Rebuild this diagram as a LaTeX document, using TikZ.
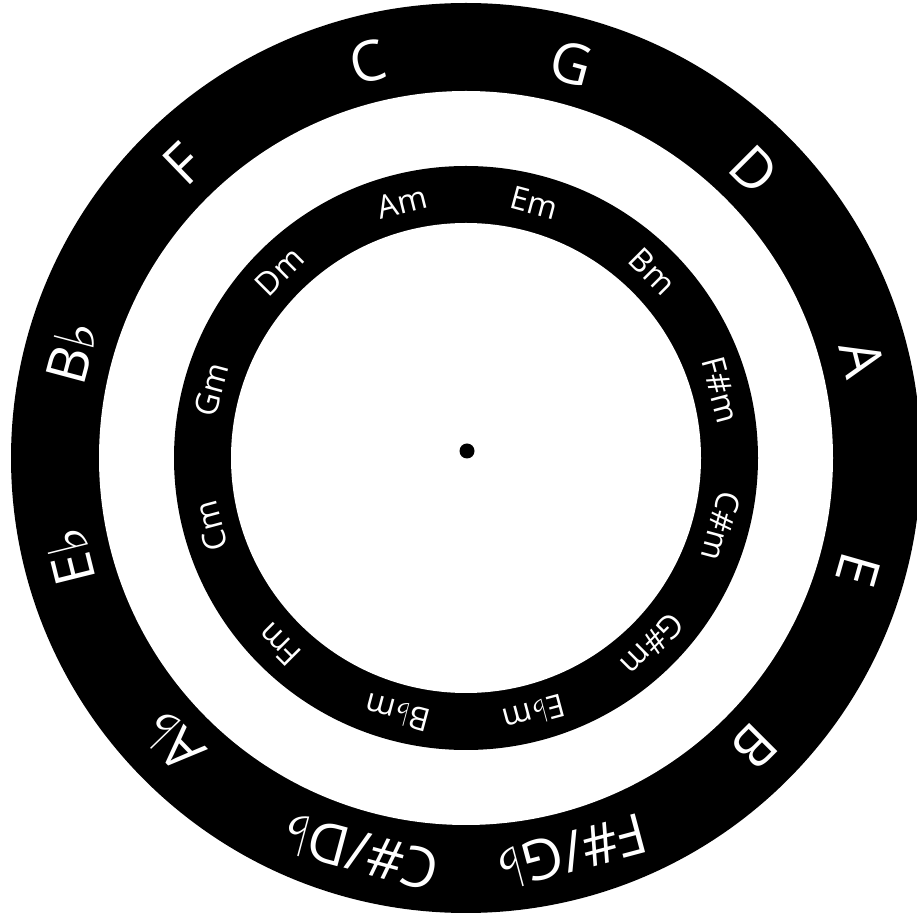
\documentclass[tikz,border=0pt]{standalone}
\usepackage{fontspec}
\setmainfont{Open Sans}
\newfontfamily\symf{DejaVu Sans}
\newcommand\fl{{\symf ♭}}
\begin{document}
\begin{tikzpicture}[x=1pt,y=1pt,
  outerlbl/.style={text=white,font=\fontsize{56}{60}\selectfont,inner sep=0pt,anchor=center},
  innerlbl/.style={text=white,font=\fontsize{32}{36}\selectfont,inner sep=0pt,anchor=center}]
\useasboundingbox (0,0) rectangle (917,922);
\fill[white] (0,0) rectangle (917,922);
\begin{scope}[shift={(466,464)}]
  \fill[black] (0,0) circle (455);
  \fill[white] (0,0) circle (367);
  \fill[black] (0,0) circle (292);
  \fill[white] (0,0) circle (235);
  \foreach \a/\t/\n in {104/{C}/oC,75/{G}/oG,45/{D}/oD,14/{A}/oA,-16/{E}/oE,-45/{B}/oB,
      -75/{F\#/G\fl}/oFs,-105/{C\#/D\fl}/oCs,-136/{A\fl}/oAb,-166/{E\fl}/oEb,165/{B\fl}/oBb,134/{F}/oF}
    \node[outerlbl,rotate=\a-90] (\n) at (\a:408) {\t};
  \foreach \a/\t/\n in {104/{Am}/iA,75/{Em}/iE,45/{Bm}/iB,15/{F\#m}/iFs,-15/{C\#m}/iCs,-45/{G\#m}/iGs,
      -75/{E\fl m}/iEb,-105/{B\fl m}/iBb,-135/{Fm}/iF,-165/{Cm}/iC,165/{Gm}/iG,135/{Dm}/iD}
    \node[innerlbl,rotate=\a-90] (\n) at (\a:264) {\t};
\end{scope}
\fill[black] (467,471) circle (7.5) node (dot) {};
\end{tikzpicture}
\end{document}
